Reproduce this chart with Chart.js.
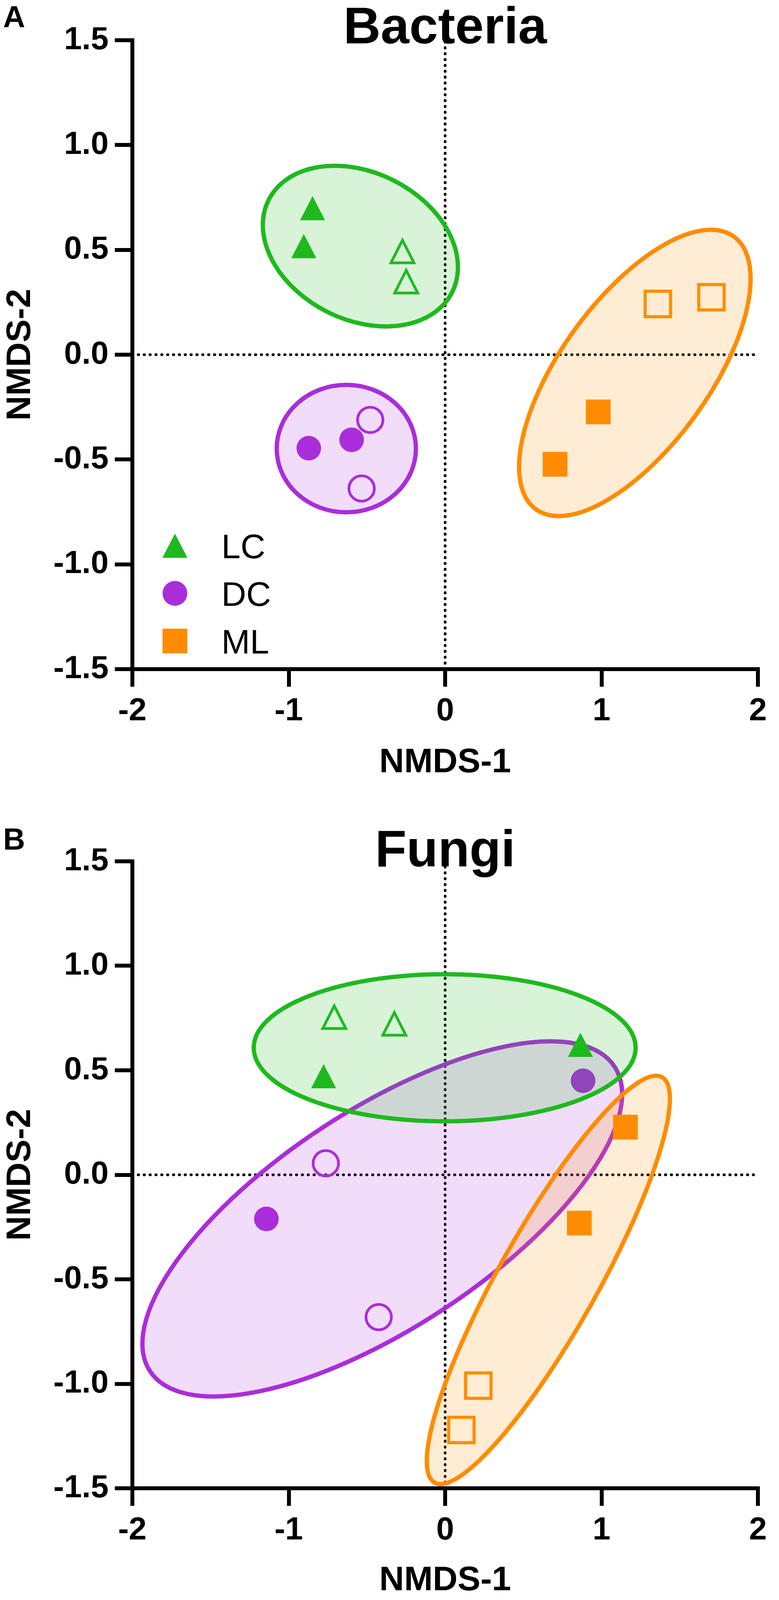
<!DOCTYPE html>
<html>
<head>
<meta charset="utf-8">
<script src="https://cdn.jsdelivr.net/npm/chart.js@4.4.1/dist/chart.umd.min.js"></script>
<style>
  html, body { margin: 0; padding: 0; background: #fff; }
  canvas { display: block; }
</style>
</head>
<body>
<canvas id="bacteria" width="1995" height="2050"></canvas>
<canvas id="fungi" width="1995" height="2050"></canvas>
<script>
// groups, in legend order
const groups = ["LC", "DC", "ML"];
const groupColors = ["rgb(30,185,30)", "rgb(170,45,218)", "rgb(255,140,0)"];
const groupFills = ["rgba(30,185,30,0.17)", "rgba(170,45,218,0.17)", "rgba(255,140,0,0.17)"];

const xTicks = [-2, -1, 0, 1, 2];
const yTicks = [-1.5, -1.0, -0.5, 0.0, 0.5, 1.0, 1.5];

// Bacteria, one inner array per group (LC, DC, ML)
const bacSolidX = [[-0.848, -0.904], [-0.872, -0.598], [0.703, 0.979]];
const bacSolidY = [[0.699, 0.518], [-0.446, -0.406], [-0.523, -0.273]];
const bacOpenX = [[-0.273, -0.249], [-0.479, -0.534], [1.360, 1.703]];
const bacOpenY = [[0.496, 0.352], [-0.311, -0.638], [0.242, 0.274]];
// ellipse: centre x, centre y, first semi-axis (dx, dy), second semi-axis (dx, dy)
const bacEllipses = [
  [-0.542, 0.518, 0.588, -0.218, -0.208, -0.315],
  [-0.632, -0.448, 0.445, 0, 0, 0.304],
  [1.213, -0.087, 0.634, 0.650, 0.382, -0.209]
];

// Fungi
const funSolidX = [[-0.777, 0.865], [-1.143, 0.882], [1.153, 0.858]];
const funSolidY = [[0.472, 0.622], [-0.211, 0.450], [0.228, -0.231]];
const funOpenX = [[-0.709, -0.325], [-0.763, -0.425], [0.212, 0.104]];
const funOpenY = [[0.758, 0.726], [0.055, -0.681], [-1.009, -1.221]];
const funEllipses = [
  [-0.003, 0.608, 1.221, 0, 0, 0.352],
  [-0.402, -0.211, 1.486, 0.728, 0.380, -0.438],
  [0.660, -0.503, 0.727, 0.970, 0.275, -0.116]
];

const FONT = '"Liberation Sans", Arial, sans-serif';
Chart.defaults.font.family = FONT;
Chart.defaults.color = "#000";

// triangles in the original are about as tall as wide, so draw them ourselves
function triangleMarker(color, open) {
  const c = document.createElement("canvas");
  c.width = 76;
  c.height = 76;
  const g = c.getContext("2d");
  g.beginPath();
  if (open) {
    g.moveTo(38, 11);
    g.lineTo(67.5, 69);
    g.lineTo(8.5, 69);
    g.closePath();
    g.lineWidth = 7;
    g.lineJoin = "miter";
    g.strokeStyle = color;
    g.stroke();
  } else {
    g.moveTo(38, 7);
    g.lineTo(70, 69);
    g.lineTo(6, 69);
    g.closePath();
    g.fillStyle = color;
    g.fill();
  }
  return c;
}
const triSolid = triangleMarker(groupColors[0], false);
const triOpen = triangleMarker(groupColors[0], true);

const solidStyle = [triSolid, "circle", "rect"];
const solidRadius = [32, 31.5, 44.8];
const openRadius = [36, 32.5, 46];
const openBorder = [0, 7, 8];

function points(xs, ys) {
  return xs.map((x, i) => ({ x: x, y: ys[i] }));
}

function buildDatasets(solidX, solidY, openX, openY, ellipses) {
  const x0 = xTicks[0], x1 = xTicks[xTicks.length - 1];
  const y0 = yTicks[0], y1 = yTicks[yTicks.length - 1];
  const dotted = {
    showLine: true,
    borderColor: "#000",
    borderWidth: 7,
    borderDash: [1, 14],
    borderCapStyle: "round",
    pointRadius: 0,
    order: 100
  };
  const sets = [
    Object.assign({ label: "zero-x", data: [{ x: 0, y: y0 }, { x: 0, y: y1 }] }, dotted),
    Object.assign({ label: "zero-y", data: [{ x: x0, y: 0 }, { x: x1, y: 0 }] }, dotted)
  ];
  // DC drawn first, then LC over it, then ML
  [1, 0, 2].forEach((g, k) => {
    const base = 60 - k * 10;
    sets.push({
      label: groups[g],
      data: points(solidX[g], solidY[g]),
      ellipse: ellipses[g],
      ellipseFill: groupFills[g],
      ellipseColor: groupColors[g],
      pointStyle: solidStyle[g],
      pointRadius: solidRadius[g],
      pointBackgroundColor: groupColors[g],
      pointBorderWidth: 0,
      order: base
    });
    sets.push({
      label: groups[g] + " open",
      data: points(openX[g], openY[g]),
      pointStyle: g === 0 ? triOpen : solidStyle[g],
      pointRadius: openRadius[g],
      pointBackgroundColor: "rgba(0,0,0,0)",
      pointBorderColor: groupColors[g],
      pointBorderWidth: openBorder[g],
      order: base - 1
    });
  });
  return sets;
}

const ellipsePlugin = {
  id: "ellipses",
  beforeDatasetDraw(chart, args) {
    const ds = chart.data.datasets[args.index];
    if (!ds.ellipse) return;
    const [cx, cy, ux, uy, vx, vy] = ds.ellipse;
    const sx = chart.scales.x, sy = chart.scales.y;
    const px = sx.getPixelForValue(cx), py = sy.getPixelForValue(cy);
    const ctx = chart.ctx;
    ctx.save();
    ctx.beginPath();
    ctx.transform(
      sx.getPixelForValue(cx + ux) - px, sy.getPixelForValue(cy + uy) - py,
      sx.getPixelForValue(cx + vx) - px, sy.getPixelForValue(cy + vy) - py,
      px, py
    );
    ctx.arc(0, 0, 1, 0, Math.PI * 2);
    ctx.restore();
    ctx.save();
    ctx.fillStyle = ds.ellipseFill;
    ctx.fill();
    ctx.lineWidth = 11;
    ctx.strokeStyle = ds.ellipseColor;
    ctx.stroke();
    ctx.restore();
  }
};

const panelText = {
  id: "panelText",
  beforeDatasetsDraw(chart, args, o) {
    const ctx = chart.ctx;
    const a = chart.chartArea;
    ctx.save();
    ctx.fillStyle = "#000";
    ctx.textBaseline = "alphabetic";
    ctx.textAlign = "left";
    ctx.font = "bold " + o.letterSize + "px " + FONT;
    ctx.fillText(o.letter, 8, o.letterY);
    ctx.textAlign = "center";
    ctx.font = "bold 132px " + FONT;
    ctx.fillText(o.title, (a.left + a.right) / 2, o.titleY);
    ctx.restore();
  },
  afterDraw(chart, args, o) {
    if (!o.legend) return;
    const ctx = chart.ctx;
    const a = chart.chartArea;
    const mx = a.left + 109;
    ctx.save();
    groups.forEach((name, i) => {
      const my = a.bottom - 316 + i * 122;
      ctx.fillStyle = groupColors[i];
      if (i === 0) {
        ctx.drawImage(triSolid, mx - triSolid.width / 2, my - triSolid.height / 2);
      } else if (i === 1) {
        ctx.beginPath();
        ctx.arc(mx, my, 31.7, 0, Math.PI * 2);
        ctx.fill();
      } else {
        ctx.fillRect(mx - 31.7, my - 31.7, 63.4, 63.4);
      }
      ctx.fillStyle = "#000";
      ctx.font = "88px " + FONT;
      ctx.textAlign = "left";
      ctx.textBaseline = "alphabetic";
      ctx.fillText(name, a.left + 228, my + 32);
    });
    ctx.restore();
  }
};

function makeChart(id, datasets, text, topPad, xAxisHeight, xTitlePad) {
  const axisGrid = {
    drawOnChartArea: false,
    drawTicks: true,
    tickLength: 45,
    tickWidth: 10,
    tickColor: "#000",
    lineWidth: 10,
    color: "#000"
  };
  const axisBorder = { display: true, width: 10, color: "#000" };
  return new Chart(document.getElementById(id), {
    type: "scatter",
    data: { datasets: datasets },
    options: {
      responsive: false,
      devicePixelRatio: 1,
      animation: false,
      events: [],
      layout: { padding: { top: topPad, right: 48, bottom: 0, left: 0 } },
      plugins: {
        legend: { display: false },
        tooltip: { enabled: false },
        panelText: text
      },
      scales: {
        x: {
          type: "linear",
          min: xTicks[0],
          max: xTicks[xTicks.length - 1],
          afterBuildTicks: s => { s.ticks = xTicks.map(v => ({ value: v })); },
          afterFit: s => { s.height = xAxisHeight; },
          ticks: {
            color: "#000",
            font: { size: 82, weight: "bold" },
            padding: 14,
            autoSkip: false,
            maxRotation: 0,
            callback: v => String(v)
          },
          grid: axisGrid,
          border: axisBorder,
          title: {
            display: true,
            text: "NMDS-1",
            color: "#000",
            font: { size: 88, weight: "bold" },
            padding: { top: 0, bottom: xTitlePad }
          }
        },
        y: {
          type: "linear",
          min: yTicks[0],
          max: yTicks[yTicks.length - 1],
          afterBuildTicks: s => { s.ticks = yTicks.map(v => ({ value: v })); },
          afterFit: s => { s.width = 339; },
          ticks: {
            color: "#000",
            font: { size: 82, weight: "bold" },
            padding: 16,
            autoSkip: false,
            callback: v => Number(v).toFixed(1)
          },
          grid: axisGrid,
          border: axisBorder,
          title: {
            display: true,
            text: "NMDS-2",
            color: "#000",
            font: { size: 88, weight: "bold" },
            padding: { top: 0, bottom: 0 }
          }
        }
      }
    },
    plugins: [ellipsePlugin, panelText]
  });
}

makeChart("bacteria",
  buildDatasets(bacSolidX, bacSolidY, bacOpenX, bacOpenY, bacEllipses),
  { letter: "A", letterSize: 78, letterY: 70, title: "Bacteria", titleY: 111, legend: true },
  103, 337, 44);

makeChart("fungi",
  buildDatasets(funSolidX, funSolidY, funOpenX, funOpenY, funEllipses),
  { letter: "B", letterSize: 78, letterY: 125, title: "Fungi", titleY: 168, legend: false },
  155, 290, 0);
</script>
</body>
</html>
